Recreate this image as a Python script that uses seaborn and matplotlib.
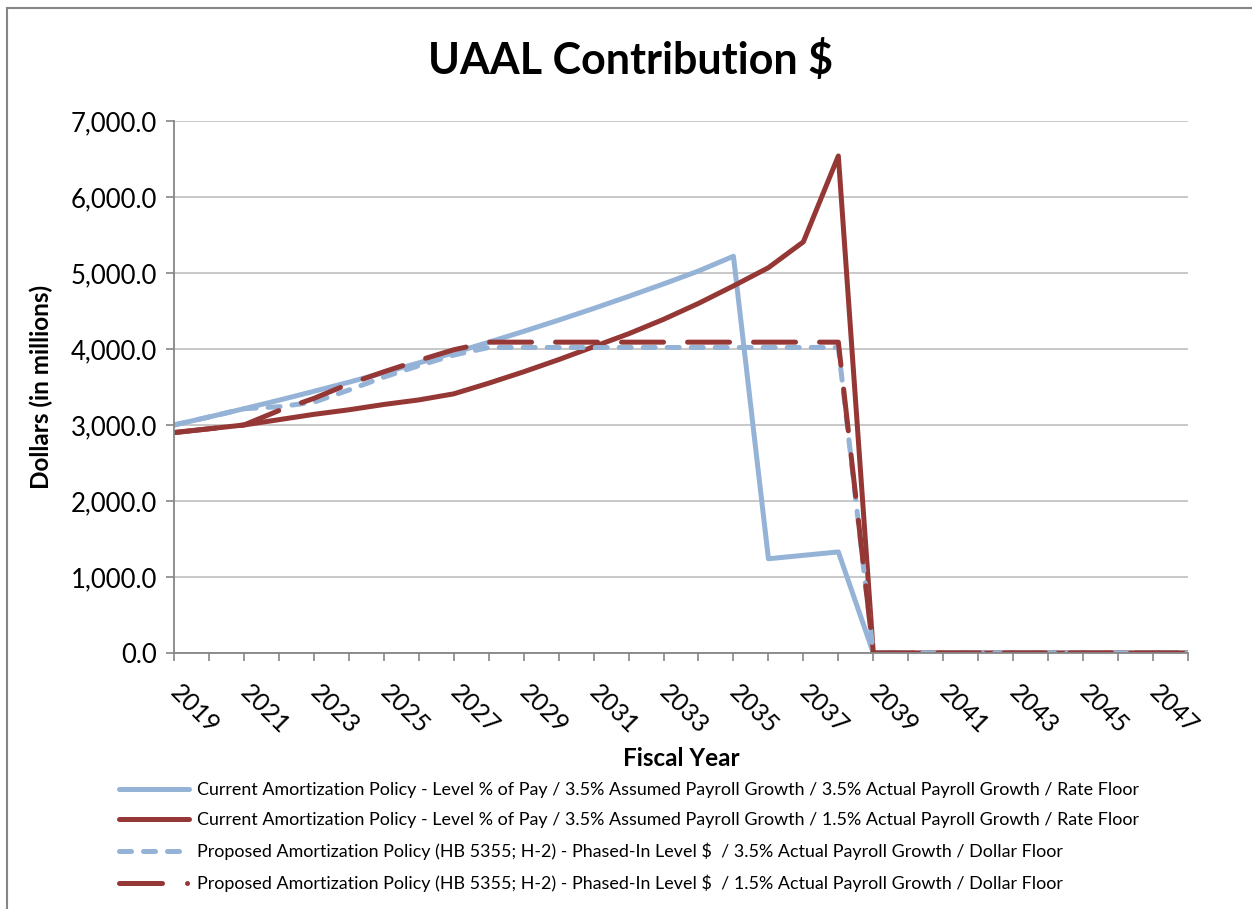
import matplotlib
matplotlib.use('Agg')
import pandas as pd
import matplotlib.pyplot as plt
import matplotlib.ticker as mticker
from matplotlib.patches import Rectangle
from matplotlib.lines import Line2D
import seaborn as sns

# Fiscal years on the x axis
years = list(range(2019, 2049))

# UAAL contribution, $ millions
current_35 = [3000, 3105, 3214, 3326, 3443, 3563, 3688, 3817, 3950, 4089,
              4232, 4380, 4533, 4692, 4856, 5026, 5220, 1240, 1285, 1330,
              0, 0, 0, 0, 0, 0, 0, 0, 0, 0]
current_15 = [2900, 2950, 3000, 3070, 3140, 3200, 3270, 3330, 3410, 3550,
              3700, 3860, 4030, 4200, 4390, 4600, 4830, 5070, 5410, 6540,
              0, 0, 0, 0, 0, 0, 0, 0, 0, 0]
proposed_35 = [3000, 3105, 3214, 3240, 3300, 3460, 3630, 3780, 3920, 4020,
               4020, 4020, 4020, 4020, 4020, 4020, 4020, 4020, 4020, 4020,
               0, 0, 0, 0, 0, 0, 0, 0, 0, 0]
proposed_15 = [2900, 2950, 3000, 3190, 3350, 3540, 3700, 3850, 3990, 4090,
               4090, 4090, 4090, 4090, 4090, 4090, 4090, 4090, 4090, 4090,
               0, 0, 0, 0, 0, 0, 0, 0, 0, 0]

labels = [
    "Current Amortization Policy - Level % of Pay / 3.5% Assumed Payroll Growth / 3.5% Actual Payroll Growth / Rate Floor",
    "Current Amortization Policy - Level % of Pay / 3.5% Assumed Payroll Growth / 1.5% Actual Payroll Growth / Rate Floor",
    "Proposed Amortization Policy (HB 5355; H-2) - Phased-In Level \\$  / 3.5% Actual Payroll Growth / Dollar Floor",
    "Proposed Amortization Policy (HB 5355; H-2) - Phased-In Level \\$  / 1.5% Actual Payroll Growth / Dollar Floor",
]

blue = '#95B3D7'
red = '#953735'

df = pd.DataFrame({'year': years, 'c35': current_35, 'c15': current_15,
                   'p35': proposed_35, 'p15': proposed_15})

sns.set_style('white')
plt.rcParams['font.family'] = ['Lato', 'DejaVu Sans']
plt.rcParams['text.color'] = 'black'
plt.rcParams['axes.labelcolor'] = 'black'

fig = plt.figure(figsize=(12.52, 9.09), dpi=100)
ax = fig.add_axes([174 / 1252, 1 - 653 / 909, (1188 - 174) / 1252, (653 - 121) / 909])

lw = 3.6
sns.lineplot(data=df, x='year', y='c35', ax=ax, color=blue, lw=lw,
             solid_capstyle='round', solid_joinstyle='round')
sns.lineplot(data=df, x='year', y='c15', ax=ax, color=red, lw=lw,
             solid_capstyle='round', solid_joinstyle='round')
sns.lineplot(data=df, x='year', y='p35', ax=ax, color=blue, lw=lw,
             linestyle=(0, (2.4, 2.4)), dash_capstyle='round', dash_joinstyle='round')
sns.lineplot(data=df, x='year', y='p15', ax=ax, color=red, lw=lw,
             linestyle=(0, (8.4, 4.8)), dash_capstyle='round', dash_joinstyle='round')

ax.set_xlim(2019, 2048)
ax.set_ylim(0, 7000)
ax.yaxis.set_major_locator(mticker.MultipleLocator(1000))
ax.yaxis.set_major_formatter(mticker.StrMethodFormatter('{x:,.1f}'))
ax.set_xticks(years, minor=True)
ax.set_xticks(list(range(2019, 2048, 2)))
ax.grid(axis='y', color='#BFBFBF', lw=1.2)
ax.set_axisbelow(True)

for s in ['top', 'right']:
    ax.spines[s].set_visible(False)
for s in ['left', 'bottom']:
    ax.spines[s].set_color('#868686')
    ax.spines[s].set_linewidth(1.3)

ax.tick_params(axis='y', which='major', length=6, width=1.2, color='#868686',
               left=True, labelsize=18.5, pad=6, labelcolor='black')
ax.tick_params(axis='x', which='both', length=6, width=1.2, color='#868686',
               bottom=True, direction='out')
ax.tick_params(axis='x', which='major', labelsize=18, pad=20, labelcolor='black')
for t in ax.get_xticklabels():
    t.set_rotation(-45)
    t.set_ha('left')
    t.set_va('center')
    t.set_rotation_mode('anchor')

ax.set_xlabel('Fiscal Year', fontsize=17.5, fontweight='bold', labelpad=6)
ax.set_ylabel('Dollars (in millions)', fontsize=17.5, fontweight='bold', labelpad=13)
fig.text(631 / 1252, 1 - 60 / 909, 'UAAL Contribution \\$', fontsize=31,
         fontweight='bold', ha='center', va='center')

# legend keys drawn like the Excel ones
handles = [
    Line2D([], [], color=blue, lw=lw, solid_capstyle='round'),
    Line2D([], [], color=red, lw=lw, solid_capstyle='round'),
    Line2D([], [], color=blue, lw=lw, linestyle=(0, (2.4, 2.4)), dash_capstyle='round'),
    Line2D([], [], color=red, lw=lw, linestyle=(0, (8.6, 5.0, 0.01, 20)), dash_capstyle='round'),
]
fig.legend(handles, labels, loc='upper left',
           bbox_to_anchor=(119 / 1252, 1 - 782 / 909), frameon=False,
           fontsize=12.85, handlelength=3.9, handletextpad=0.45,
           labelspacing=0.8, borderpad=0, borderaxespad=0)

fig.patches.append(Rectangle((7 / 1252, -0.1), 1.2, 1 - 8 / 909 + 0.1,
                             transform=fig.transFigure, fill=False,
                             edgecolor='#868686', lw=1.5))

fig.savefig('out.png', dpi=100)
